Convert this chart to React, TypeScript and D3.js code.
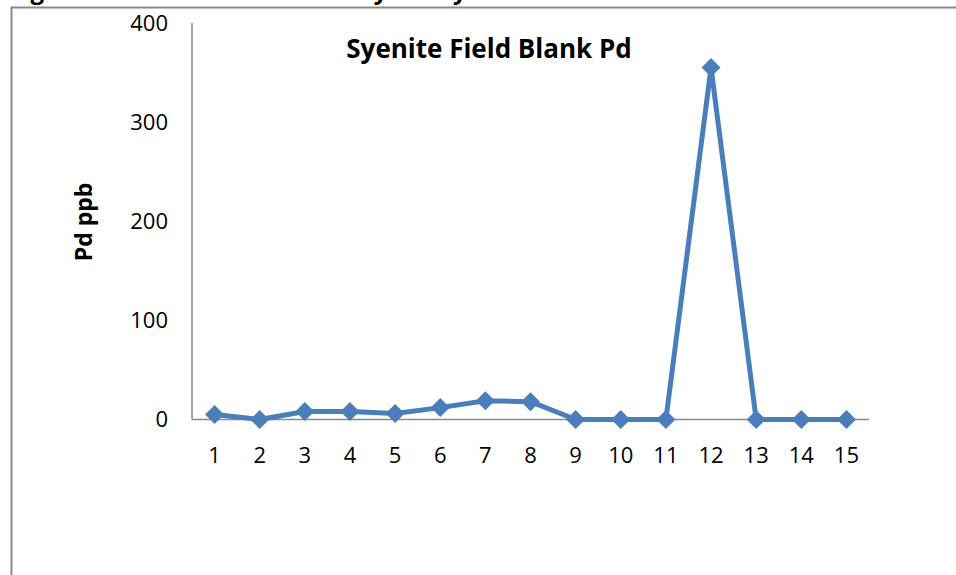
import React from "react";
import * as d3 from "d3";

const categories = ["1","2","3","4","5","6","7","8","9","10","11","12","13","14","15"];
const pdValues = [5, 0, 8, 8, 6, 12, 19, 18, 0, 0, 0, 355, 0, 0, 0];
const yTicks = [0, 100, 200, 300, 400];
const chartTitle = "Syenite Field Blank Pd";
const yTitle = "Pd ppb";
const caption = "Figure 7: Field Blank Pd Analyses by Lab";

export default function App() {
  const W = 956, H = 575;
  const left = 192, right = 869, top = 23, bottom = 419.5;
  const x = d3.scaleBand().domain(categories).range([left, right]);
  const y = d3.scaleLinear().domain([0, 400]).range([bottom, top]);
  const pts = pdValues.map((v, i) => [x(categories[i])! + x.bandwidth() / 2, y(v)] as [number, number]);
  const line = d3.line()(pts) || "";
  const font = "'Open Sans', 'Noto Sans', sans-serif";
  const r = 9.5;
  const diamond = (cx: number, cy: number) => `M${cx},${cy - r}L${cx + r},${cy}L${cx},${cy + r}L${cx - r},${cy}Z`;
  return (
    <svg width={W} height={H} style={{ position: "absolute", left: 0, top: 0, background: "#fff" }}>
      <defs>
        <clipPath id="capclip"><rect x={0} y={0} width={W} height={6} /></clipPath>
      </defs>
      <g clipPath="url(#capclip)">
        <text x={8} y={-1} fontFamily={font} fontWeight="bold" fontSize={24} letterSpacing={1} fill="#000">{caption}</text>
      </g>
      <path d={`M11.5,${H}V7.5H${W}`} fill="none" stroke="#8a8a8a" strokeWidth={2} />
      <line x1={left} x2={left} y1={top} y2={bottom} stroke="#8a8a8a" strokeWidth={1.5} />
      <line x1={left} x2={right} y1={bottom} y2={bottom} stroke="#8a8a8a" strokeWidth={1.5} />
      {yTicks.map(t => (
        <text key={t} x={168} y={y(t)} dy="0.36em" textAnchor="end" fontFamily={font} fontSize={22} fill="#000">{t}</text>
      ))}
      {categories.map(c => (
        <text key={c} x={x(c)! + x.bandwidth() / 2} y={463} textAnchor="middle" fontFamily={font} fontSize={22} fill="#000">{c}</text>
      ))}
      <text x={489} y={58} textAnchor="middle" fontFamily={font} fontWeight="bold" fontSize={26} fill="#000">{chartTitle}</text>
      <text transform={`translate(92,222) rotate(-90)`} textAnchor="middle" fontFamily={font} fontWeight="bold" fontSize={23} fill="#000">{yTitle}</text>
      <path d={line} fill="none" stroke="#4A7EBB" strokeWidth={5} strokeLinejoin="round" />
      {pts.map((p, i) => (
        <path key={i} d={diamond(p[0], p[1])} fill="#4A7EBB" />
      ))}
    </svg>
  );
}
